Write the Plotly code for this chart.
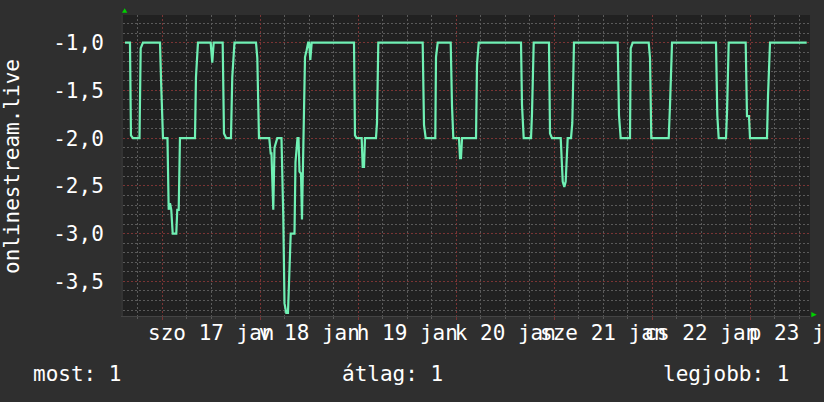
import pandas as pd
import plotly.graph_objects as go

# ---- data ----
# hours since 2015-01-17 00:00
hours = [-9.14, -7.91, -7.67, -7.18, -5.58, -5.29, -4.73, -0.56, -0.25, 0.17,
         1.27, 1.57, 1.89, 2.20, 2.55, 3.43, 3.67, 4.02, 4.33, 8.01,
         8.25, 8.74, 11.85, 12.24, 12.59, 14.79, 15.11, 15.67, 16.82, 17.14,
         17.68, 22.95, 23.27, 23.68, 26.20, 26.55, 26.74, 27.18, 27.48, 27.85,
         28.16, 29.19, 29.63, 29.93, 30.37, 30.78, 31.03, 31.45, 32.38, 32.62,
         33.11, 33.36, 33.60, 33.97, 34.21, 34.53, 34.95, 35.35, 35.72, 35.98,
         36.25, 36.59, 46.95, 47.19, 47.61, 48.83, 49.08, 49.40, 49.64, 52.33,
         52.58, 52.90, 63.77, 64.09, 64.51, 66.86, 67.03, 67.45, 70.63, 70.95,
         71.27, 72.66, 72.91, 73.15, 73.40, 76.83, 77.07, 77.49, 87.85, 88.09,
         88.51, 90.30, 90.54, 90.96, 94.70, 94.95, 95.44, 97.57, 98.06, 98.45,
         98.79, 99.28, 100.09, 100.41, 100.82, 111.53, 111.84, 112.26, 114.54, 114.71,
         115.20, 119.12, 119.44, 119.76, 124.02, 124.34, 124.83, 135.60, 135.92, 136.26,
         138.05, 138.29, 138.71, 142.87, 143.19, 143.68, 143.93, 148.09, 148.34, 148.83,
         157.81]
values = [-1.0, -1.0, -1.97, -2.0, -2.0, -1.06, -1.0, -1.0, -1.46, -2.0,
          -2.0, -2.75, -2.68, -2.75, -3.0, -3.0, -2.75, -2.75, -2.0, -2.0,
          -1.36, -1.0, -1.0, -1.21, -1.0, -1.0, -1.95, -2.0, -2.0, -1.36,
          -1.0, -1.0, -1.16, -2.0, -2.0, -2.16, -2.16, -2.75, -2.1, -2.05,
          -2.0, -2.0, -2.82, -3.73, -3.83, -3.83, -3.54, -3.0, -3.0, -2.25,
          -2.0, -2.0, -2.35, -2.37, -2.85, -2.0, -1.15, -1.08, -1.0, -1.0,
          -1.18, -1.0, -1.0, -1.97, -2.0, -2.0, -2.30, -2.30, -2.0, -2.0,
          -1.84, -1.0, -1.0, -1.86, -2.0, -2.0, -1.15, -1.0, -1.0, -1.66,
          -2.0, -2.0, -2.21, -2.21, -2.0, -2.0, -1.23, -1.0, -1.0, -1.65,
          -2.0, -2.0, -1.74, -1.0, -1.0, -1.95, -2.0, -2.0, -2.455, -2.51,
          -2.455, -2.0, -2.0, -1.84, -1.0, -1.0, -1.76, -2.0, -2.0, -1.06,
          -1.0, -1.0, -1.16, -2.0, -2.0, -1.65, -1.0, -1.0, -1.76, -2.0,
          -2.0, -1.74, -1.0, -1.0, -1.77, -1.77, -2.0, -2.0, -1.55, -1.0,
          -1.0]

series_name = "onlinestream.live"
day_labels = ["szo 17 jan", "v 18 jan", "h 19 jan", "k 20 jan",
              "sze 21 jan", "cs 22 jan", "p 23 jan"]
day_label_times = ["2015-01-17 12:00", "2015-01-18 12:00", "2015-01-19 12:00",
                   "2015-01-20 12:00", "2015-01-21 12:00", "2015-01-22 12:00",
                   "2015-01-23 12:00"]
y_tick_vals = [-1.0, -1.5, -2.0, -2.5, -3.0, -3.5]
y_tick_labels = ["-1,0", "-1,5", "-2,0", "-2,5", "-3,0", "-3,5"]
legend_texts = ["most: 1", "átlag: 1", "legjobb: 1"]

# ---- figure ----
base = pd.Timestamp("2015-01-17 00:00")
times = base + pd.to_timedelta(hours, unit="h")
x_range = [base + pd.Timedelta(hours=-9.62), base + pd.Timedelta(hours=158.62)]

FONT = "DejaVu Sans Mono"
LINE = "#70f0b4"
MAJOR = "#7a3434"
MINOR = "#5a5a5a"

fig = go.Figure()
fig.add_trace(go.Scatter(x=times, y=values, mode="lines",
                         line=dict(color=LINE, width=2.2),
                         xaxis="x", yaxis="y", hoverinfo="skip",
                         showlegend=False))
fig.add_trace(go.Scatter(x=[], y=[], xaxis="x2", yaxis="y",
                         showlegend=False, hoverinfo="skip"))

fig.update_layout(
    width=824, height=402,
    template="none",
    paper_bgcolor="#2f2f2f",
    plot_bgcolor="#212121",
    margin=dict(l=123, r=14, t=15, b=86),
    font=dict(family=FONT, size=21, color="#ffffff"),
    showlegend=False,
    xaxis=dict(
        type="date", range=x_range,
        tick0="2015-01-17", dtick=86400000,
        showgrid=True, gridcolor=MAJOR, griddash="2px,2px", gridwidth=1,
        showticklabels=False,
        ticks="outside", ticklen=3, tickcolor=MAJOR,
        minor=dict(dtick=6 * 3600000, tick0="2015-01-17",
                   showgrid=True, gridcolor=MINOR, griddash="2px,2px",
                   ticks="outside", ticklen=2, tickcolor=MINOR),
        showline=True, linecolor="#444444", linewidth=1,
        zeroline=False, automargin=False, fixedrange=True,
    ),
    xaxis2=dict(
        type="date", range=x_range, overlaying="x", anchor="y", side="bottom",
        tickmode="array", tickvals=day_label_times, ticktext=day_labels,
        showgrid=False, ticks="", tickangle=0,
        ticklabeloverflow="allow", ticklabelstandoff=2,
        tickfont=dict(family=FONT, size=21, color="#ffffff"),
        zeroline=False, automargin=False, showline=False, fixedrange=True,
    ),
    yaxis=dict(
        range=[-3.862, -0.71],
        tickmode="array", tickvals=y_tick_vals, ticktext=y_tick_labels,
        showgrid=True, gridcolor=MAJOR, griddash="2px,2px", gridwidth=1,
        minor=dict(dtick=0.1, tick0=0, showgrid=True, gridcolor=MINOR,
                   griddash="2px,2px"),
        ticks="", ticklabelstandoff=13,
        tickfont=dict(family=FONT, size=21, color="#ffffff"),
        showline=True, linecolor="#333333", linewidth=2,
        zeroline=False, automargin=False, fixedrange=True,
    ),
)

# axis title (rotated)
fig.add_annotation(text=series_name, textangle=-90, xref="paper", yref="paper",
                   x=-0.1616, y=0.4983, xanchor="center", yanchor="middle",
                   showarrow=False, font=dict(family=FONT, size=21, color="#ffffff"))

# legend line
for txt, xp in zip(legend_texts, [-0.1339, 0.3159, 0.7831]):
    fig.add_annotation(text=txt, xref="paper", yref="paper", x=xp, y=-0.1927,
                       xanchor="left", yanchor="middle", showarrow=False,
                       font=dict(family=FONT, size=21, color="#ffffff"))

# axis arrows
ARROW = "#00d000"
fig.add_shape(type="path", xref="paper", yref="paper",
              path="M 0.0025 1.0223 L -0.0015 1.0076 L 0.0063 1.0076 Z",
              fillcolor=ARROW, line=dict(width=0), layer="above")
fig.add_shape(type="path", xref="paper", yref="paper",
              path="M 1.0098 0.0043 L 1.0019 0.0133 L 1.0019 -0.0043 Z",
              fillcolor=ARROW, line=dict(width=0), layer="above")

fig.write_html("out.html",
               config={"displayModeBar": False, "staticPlot": True},
               post_script="document.body.style.margin='0px';"
                           "document.body.style.background='#2f2f2f';")
